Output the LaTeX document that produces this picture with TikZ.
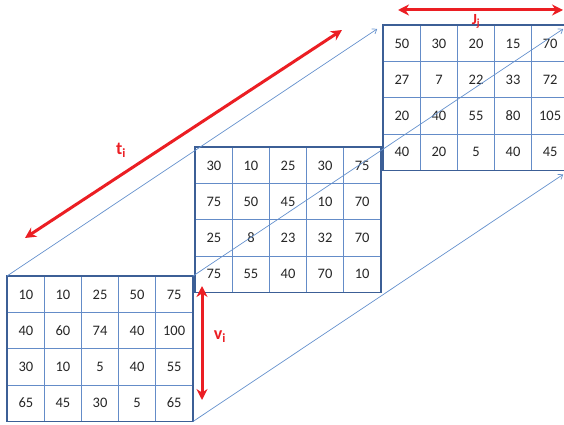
\documentclass[tikz,border=0pt]{standalone}
\usepackage{fontspec}
\setmainfont{Carlito}
\usetikzlibrary{matrix,arrows.meta,positioning}
\definecolor{gridEdge}{RGB}{60,95,150}
\definecolor{gridLine}{RGB}{100,140,200}
\definecolor{guideBlue}{RGB}{100,145,205}
\definecolor{markRed}{RGB}{235,30,35}
\tikzset{
  cell/.style={draw=gridLine,line width=0.7pt,minimum width=37.06pt,minimum height=36.2pt,
               inner sep=0pt,outer sep=0pt,anchor=center,
               font=\fontsize{14.5}{17}\selectfont,text=black!85},
  numgrid/.style={matrix of nodes,nodes={cell},column sep=-0.7pt,row sep=-0.7pt,
                  inner sep=0pt,outer sep=0pt,anchor=north west},
  gridframe/.style={draw=gridEdge,line width=1.6pt},
  guide/.style={-{Straight Barb[length=4pt,width=6pt]},guideBlue,line width=0.7pt,shorten >=7pt},
  redarr/.style={{Stealth[length=11pt,width=11pt]}-{Stealth[length=11pt,width=11pt]},
                 markRed,line width=3pt},
  lbl/.style={text=markRed,font=\fontsize{18}{20}\selectfont\bfseries},
}

\begin{document}
\begin{tikzpicture}[x=1pt,y=-1pt]
  \clip (0,0) rectangle (564,425);

  % three slices
  \matrix (front) [numgrid] at (7,276) {
    10 & 10 & 25 & 50 & 75 \\
    40 & 60 & 74 & 40 & 100 \\
    30 & 10 & 5 & 40 & 55 \\
    65 & 45 & 30 & 5 & 65 \\
  };
  \matrix (mid) [numgrid] at (195,147) {
    30 & 10 & 25 & 30 & 75 \\
    75 & 50 & 45 & 10 & 70 \\
    25 & 8 & 23 & 32 & 70 \\
    75 & 55 & 40 & 70 & 10 \\
  };
  \matrix (back) [numgrid] at (383,25) {
    50 & 30 & 20 & 15 & 70 \\
    27 & 7 & 22 & 33 & 72 \\
    20 & 40 & 55 & 80 & 105 \\
    40 & 20 & 5 & 40 & 45 \\
  };
  \draw[gridframe] (front.north west) rectangle (front.south east);
  \draw[gridframe] (mid.north west) rectangle (mid.south east);
  \draw[gridframe] (back.north west) rectangle (back.south east);

  \draw[guide] (front.north west) -- (back.north west);
  \draw[guide] (front.north east) -- (back.north east);
  \draw[guide] (front.south east) -- (back.south east);

  % dimensions
  \coordinate (tlo) at (25,238);
  \coordinate (thi) at (342,30);
  \coordinate (vhi) at (202,286);
  \coordinate (vlo) at (202,400);
  \coordinate (jl) at (398,10);
  \coordinate (jr) at (563,10);
  \draw[redarr] (tlo) -- (thi);
  \draw[redarr] (vhi) -- (vlo);
  \draw[redarr] (jl) -- (jr);
  \node[lbl] (tlab) at (121,150) {t\textsubscript{i}};
  \node[lbl] (vlab) at (220,337) {v\textsubscript{i}};
  \node[lbl,font=\fontsize{15.5}{17}\selectfont\bfseries] (jlab) at (476,21.5) {J\textsubscript{j}};
\end{tikzpicture}
\end{document}
